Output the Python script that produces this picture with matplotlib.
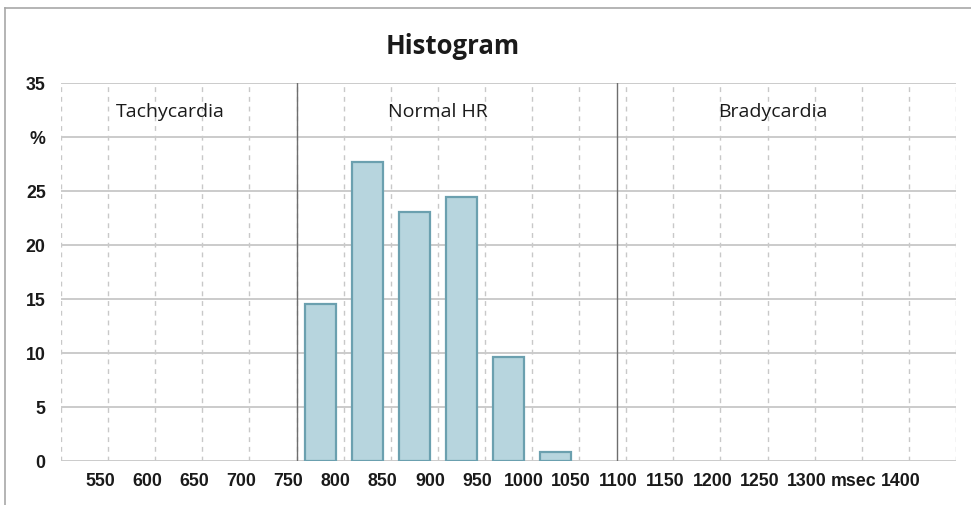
import matplotlib.pyplot as plt
from matplotlib.lines import Line2D
from matplotlib.transforms import ScaledTranslation

# RR interval bins (msec) and share of beats (%)
bin_centers = [775, 825, 875, 925, 975, 1025]
percent = [14.5, 27.7, 23.1, 24.4, 9.6, 0.85]
bar_width = 33

grid_x = list(range(500, 1451, 50))
x_labels = ['' if v in (500, 1450) else ('msec' if v == 1350 else str(v)) for v in grid_x]
y_ticks = [0, 5, 10, 15, 20, 25, 30, 35]
y_labels = ['0', '5', '10', '15', '20', '25', '%', '35']

zones = ['Tachycardia', 'Normal HR', 'Bradycardia']
zone_x = [616, 900, 1256]
zone_bounds = [750, 1090]

fig = plt.figure(figsize=(9.71, 5.05), dpi=100)
ax = fig.add_axes([61 / 971, 1 - 461 / 505, 895 / 971, 378 / 505])

ax.bar(bin_centers, percent, width=bar_width, color='#b7d5de',
       edgecolor='#6ba0af', linewidth=1.6, zorder=3)

ax.set_xlim(500, 1450)
ax.set_ylim(0, 35)
ax.set_xticks(grid_x)
ax.set_xticklabels(x_labels)
ax.set_yticks(y_ticks)
ax.set_yticklabels(y_labels)

ax.grid(axis='y', color='#cbcbcb', linewidth=1.4, zorder=1)
ax.grid(axis='x', color='#c8c8c8', linewidth=1.0, linestyle=(0, (3.5, 3.5)), zorder=1)
for s in ax.spines.values():
    s.set_visible(False)
for v in zone_bounds:
    ax.axvline(v, color='#6e6e6e', linewidth=1.0, zorder=2)

ax.tick_params(length=0, labelsize=12.8, labelcolor='#1a1a1a')
ax.tick_params(axis='y', pad=11)
ax.tick_params(axis='x', pad=9)
for lbl in ax.get_xticklabels() + ax.get_yticklabels():
    lbl.set_fontfamily('Liberation Sans')
    lbl.set_fontweight('bold')
off = ScaledTranslation(-8 / 100, 0, fig.dpi_scale_trans)
for lbl in ax.get_xticklabels():
    lbl.set_transform(lbl.get_transform() + off)

for name, xv in zip(zones, zone_x):
    ax.text(xv, 32.3, name, ha='center', va='center', fontsize=14,
            family='Open Sans', color='#1a1a1a')

fig.text(453 / 971, 1 - 47 / 505, 'Histogram', ha='center', va='center',
         fontsize=18.5, fontweight='bold', family='Open Sans', color='#1a1a1a')

# outer frame (top and left only)
fig.add_artist(Line2D([5 / 971, 1], [1 - 8 / 505, 1 - 8 / 505], color='#a8a8a8', linewidth=1.2))
fig.add_artist(Line2D([5 / 971, 5 / 971], [0, 1 - 8 / 505], color='#a8a8a8', linewidth=1.2))

fig.savefig('out.png', dpi=100)
